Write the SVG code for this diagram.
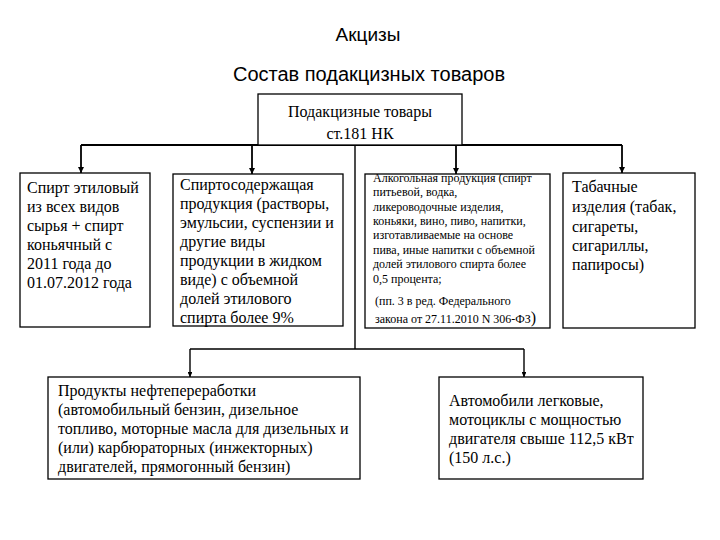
<svg xmlns="http://www.w3.org/2000/svg" width="720" height="540" viewBox="0 0 720 540">
<defs>
<style>
.box{fill:#fff;stroke:#000;stroke-width:1.3}
.t{font-family:"Liberation Serif","Times New Roman",serif;font-size:16px;fill:#000}
.s{font-family:"Liberation Serif","Times New Roman",serif;font-size:12px;fill:#000}
.h{font-family:"Liberation Sans",Arial,sans-serif;fill:#000;text-anchor:middle}
.c{fill:none;stroke:#000;stroke-width:1.8}
.c2{fill:none;stroke:#000;stroke-width:1.4}
</style>
<marker id="arr" viewBox="0 0 10 10" refX="10" refY="5" markerWidth="3.5" markerHeight="3.5" orient="auto" markerUnits="strokeWidth">
<path d="M0,0 L10,5 L0,10 z" fill="#000"/>
</marker>
</defs>
<rect width="720" height="540" fill="#fff"/>
<text class="h" x="368" y="41" font-size="19">Акцизы</text>
<text class="h" x="369" y="81" font-size="20">Состав подакцизных товаров</text>

<g id="connectors">
<path class="c" d="M81,145 H622"/>
<path class="c" d="M81,145 V173" marker-end="url(#arr)"/>
<path class="c" d="M252,145 V174" marker-end="url(#arr)"/>
<path class="c" d="M456,145 V174" marker-end="url(#arr)"/>
<path class="c" d="M622,145 V173" marker-end="url(#arr)"/>
<path class="c2" d="M355,145 V349 M190,349 H524"/>
<path class="c2" d="M190,349 V377" marker-end="url(#arr)"/>
<path class="c2" d="M524,349 V377" marker-end="url(#arr)"/>
</g>

<g id="top">
<rect class="box" x="258" y="94" width="204" height="51"/>
<text class="t" x="360" y="117" font-size="17" text-anchor="middle">Подакцизные товары</text>
<text class="t" x="360" y="139" font-size="17" text-anchor="middle">ст.181 НК</text>
</g>

<g id="n1">
<rect class="box" x="20" y="173" width="130" height="154"/>
<text class="t" x="27" y="193">Спирт этиловый</text>
<text class="t" x="27" y="212">из всех видов</text>
<text class="t" x="27" y="231">сырья + спирт</text>
<text class="t" x="27" y="250">коньячный с</text>
<text class="t" x="27" y="269">2011 года до</text>
<text class="t" x="27" y="288">01.07.2012 года</text>
</g>

<g id="n2">
<rect class="box" x="173" y="174" width="170" height="152"/>
<text class="t" x="180" y="190">Спиртосодержащая</text>
<text class="t" x="180" y="209">продукция (растворы,</text>
<text class="t" x="180" y="228">эмульсии, суспензии и</text>
<text class="t" x="180" y="247">другие виды</text>
<text class="t" x="180" y="266">продукции в жидком</text>
<text class="t" x="180" y="285">виде) с объемной</text>
<text class="t" x="180" y="304">долей этилового</text>
<text class="t" x="180" y="323">спирта более 9%</text>
</g>

<g id="n3">
<rect class="box" x="365" y="174" width="185" height="154"/>
<text class="s" x="373" y="182">Алкогольная продукция (спирт</text>
<text class="s" x="373" y="196">питьевой, водка,</text>
<text class="s" x="373" y="211">ликероводочные изделия,</text>
<text class="s" x="373" y="225">коньяки, вино, пиво, напитки,</text>
<text class="s" x="373" y="239">изготавливаемые на основе</text>
<text class="s" x="373" y="254">пива, иные напитки с объемной</text>
<text class="s" x="373" y="268">долей этилового спирта более</text>
<text class="s" x="373" y="283">0,5 процента;</text>
<text class="s" x="375" y="305">(пп. 3 в ред. Федерального</text>
<text class="s" x="375" y="323">закона от 27.11.2010 N 306-ФЗ<tspan font-size="16">)</tspan></text>
</g>

<g id="n4">
<rect class="box" x="563" y="173" width="132" height="155"/>
<text class="t" x="572" y="192">Табачные</text>
<text class="t" x="572" y="212">изделия (табак,</text>
<text class="t" x="572" y="232">сигареты,</text>
<text class="t" x="572" y="251">сигариллы,</text>
<text class="t" x="572" y="270">папиросы)</text>
</g>

<g id="n5">
<rect class="box" x="48" y="377" width="312" height="102"/>
<text class="t" x="58" y="396">Продукты нефтепереработки</text>
<text class="t" x="58" y="415">(автомобильный бензин, дизельное</text>
<text class="t" x="58" y="434">топливо, моторные масла для дизельных и</text>
<text class="t" x="58" y="453">(или) карбюраторных (инжекторных)</text>
<text class="t" x="58" y="472">двигателей, прямогонный бензин)</text>
</g>

<g id="n6">
<rect class="box" x="439" y="377" width="204" height="102"/>
<text class="t" x="449" y="406">Автомобили легковые,</text>
<text class="t" x="449" y="425">мотоциклы с мощностью</text>
<text class="t" x="449" y="444">двигателя свыше 112,5 кВт</text>
<text class="t" x="449" y="463">(150 л.с.)</text>
</g>
</svg>
